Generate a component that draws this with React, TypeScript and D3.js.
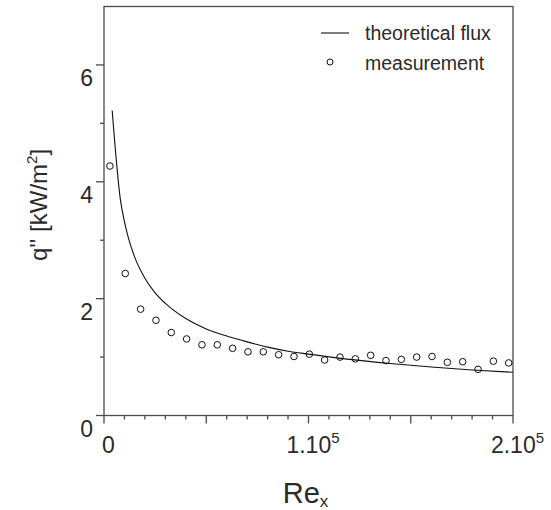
import React from "react";
import * as d3 from "d3";

const theoryRe = [4000, 8000, 10000, 12000, 15000, 20000, 25000, 30000, 40000, 50000, 60000, 70000, 80000, 90000, 100000, 120000, 140000, 160000, 180000, 200000];
const theoryQ = [5.22, 3.7, 3.32, 3.03, 2.71, 2.35, 2.1, 1.92, 1.66, 1.48, 1.36, 1.26, 1.17, 1.1, 1.05, 0.96, 0.89, 0.83, 0.78, 0.74];

const measRe = [2900, 10400, 17900, 25400, 32900, 40400, 47900, 55400, 62900, 70400, 77900, 85400, 92900, 100400, 107900, 115400, 122900, 130400, 137900, 145400, 152900, 160400, 167900, 175400, 182900, 190400, 197900];
const measQ = [4.27, 2.43, 1.82, 1.63, 1.42, 1.31, 1.21, 1.21, 1.15, 1.09, 1.09, 1.04, 1.01, 1.05, 0.95, 1.0, 0.97, 1.03, 0.94, 0.96, 1.0, 1.01, 0.91, 0.92, 0.79, 0.93, 0.9];

const yMajorTicks = [0, 2, 4, 6];
const yMinorTicks = [1, 3, 5];
const xMajorTicks = [0, 50000, 100000, 150000, 200000];
const xMinorTicks = d3.range(10000, 200000, 10000).filter((v) => v % 50000 !== 0);
const xTickLabels: [number, string, string][] = [
  [0, "0", ""],
  [100000, "1.10", "5"],
  [200000, "2.10", "5"],
];

const legendLabels = ["theoretical flux", "measurement"];

const FONT = "'Liberation Sans', Arial, Helvetica, sans-serif";
const AXIS = "#4a4a4a";
const INK = "#2a2a2a";

export default function App() {
  const W = 551, H = 510;
  const x = d3.scaleLinear().domain([0, 200000]).range([104, 513]);
  const y = d3.scaleLinear().domain([0, 7]).range([415.5, 6.5]);
  const line = d3
    .line<number>()
    .x((_, i) => x(theoryRe[i]))
    .y((d) => y(d))
    .curve(d3.curveMonotoneX);

  const x0 = x.range()[0], x1 = x.range()[1];
  const y0 = y.range()[0], y1 = y.range()[1];

  return (
    <svg
      width={W}
      height={H}
      style={{ position: "absolute", left: 0, top: 0, background: "#fff" }}
      fontFamily={FONT}
    >
      {/* frame */}
      <rect x={x0} y={y1} width={x1 - x0} height={y0 - y1} fill="none" stroke={AXIS} strokeWidth={1.3} />

      {/* y ticks */}
      {yMajorTicks.map((v) => (
        <g key={"ym" + v}>
          <line x1={x0 - 8} x2={x0} y1={y(v)} y2={y(v)} stroke={AXIS} strokeWidth={1.3} />
          <text x={93} y={y(v) + 21} textAnchor="end" fontSize={23} fill={INK}>
            {v}
          </text>
        </g>
      ))}
      {yMinorTicks.map((v) => (
        <line key={"yn" + v} x1={x0 - 4} x2={x0} y1={y(v)} y2={y(v)} stroke={AXIS} strokeWidth={1.3} />
      ))}

      {/* x ticks */}
      {xMajorTicks.map((v) => (
        <line key={"xm" + v} x1={x(v)} x2={x(v)} y1={y0} y2={y0 + 8} stroke={AXIS} strokeWidth={1.3} />
      ))}
      {xMinorTicks.map((v) => (
        <line key={"xn" + v} x1={x(v)} x2={x(v)} y1={y0} y2={y0 + 4} stroke={AXIS} strokeWidth={1.3} />
      ))}
      {xTickLabels.map(([v, base, sup]) => (
        <text key={"xl" + v} x={x(v) + 4.5} y={y0 + 37.5} textAnchor="middle" fontSize={23} fill={INK}>
          {base}
          {sup && (
            <tspan dy={-10.5} fontSize={15}>
              {sup}
            </tspan>
          )}
        </text>
      ))}

      {/* axis titles */}
      <text x={305.5} y={503} textAnchor="middle" fontSize={29} fill={INK}>
        Re
        <tspan dy={4} fontSize={17}>x</tspan>
      </text>
      <text
        transform="translate(47,205) rotate(-90)"
        textAnchor="middle"
        fontSize={24}
        fill={INK}
      >
        {"q'' [kW/m"}
        <tspan dy={-10} fontSize={15}>2</tspan>
        <tspan dy={10}>]</tspan>
      </text>

      {/* theoretical curve */}
      <path d={line(theoryQ) || ""} fill="none" stroke="#111" strokeWidth={1.1} />

      {/* measurements */}
      {measQ.map((q, i) => (
        <circle key={"m" + i} cx={x(measRe[i])} cy={y(q)} r={3.3} fill="none" stroke="#111" strokeWidth={1} />
      ))}

      {/* legend */}
      <line x1={321} x2={349} y1={33} y2={33} stroke="#111" strokeWidth={1.1} />
      <text x={365} y={40} fontSize={19.5} fill={INK}>{legendLabels[0]}</text>
      <circle cx={330} cy={62} r={3} fill="none" stroke="#111" strokeWidth={1} />
      <text x={365} y={70} fontSize={19.5} fill={INK}>{legendLabels[1]}</text>
    </svg>
  );
}
